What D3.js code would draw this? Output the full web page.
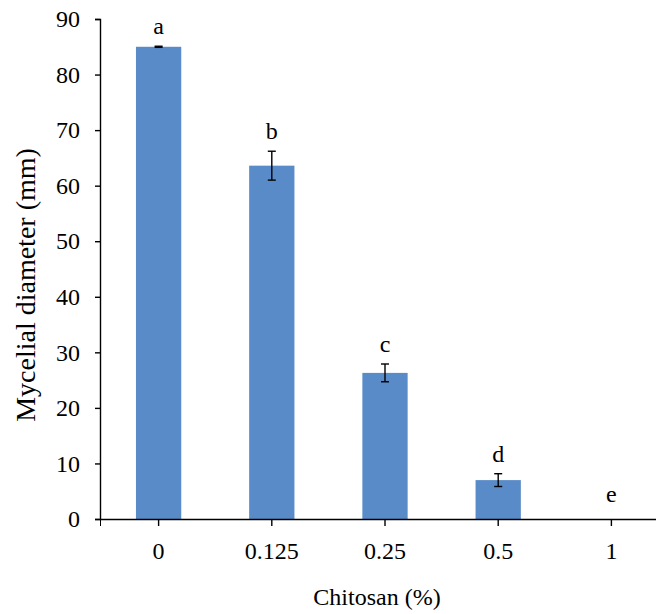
<!DOCTYPE html>
<html>
<head>
<meta charset="utf-8">
<script src="https://cdn.jsdelivr.net/npm/d3@7"></script>
<style>
  body { margin: 0; background: #fff; }
  text { font-family: "Liberation Serif", "Times New Roman", serif; }
</style>
</head>
<body>
<svg id="chart" width="656" height="614"></svg>
<script>
// chitosan concentrations and mycelial growth
const concentrations = ['0', '0.125', '0.25', '0.5', '1'];
const diameters = [85.0, 63.6, 26.3, 7.0, 0];
const errors = [0.1, 2.6, 1.6, 1.15, 0];
const letters = ['a', 'b', 'c', 'd', 'e'];
const yTicks = [0, 10, 20, 30, 40, 50, 60, 70, 80, 90];

const svg = d3.select('#chart');

const x = d3.scaleBand()
  .domain(concentrations)
  .range([102, 668])
  .paddingInner(0.6)
  .paddingOuter(0.3);

const y = d3.scaleLinear()
  .domain([0, 90])
  .range([519, 19]);

const rows = concentrations.map((c, i) => ({
  c, v: diameters[i], err: errors[i], letter: letters[i]
}));

// bars
svg.append('g')
  .selectAll('rect')
  .data(rows)
  .enter()
  .append('rect')
  .attr('x', d => x(d.c))
  .attr('y', d => y(d.v))
  .attr('width', x.bandwidth())
  .attr('height', d => y(0) - y(d.v))
  .attr('fill', '#588BC8');

// error bars
const errG = svg.append('g')
  .attr('stroke', '#000')
  .attr('stroke-width', 1.4);

rows.filter(d => d.v > 0).forEach(d => {
  const cx = x(d.c) + x.bandwidth() / 2;
  errG.append('line')
    .attr('x1', cx).attr('x2', cx)
    .attr('y1', y(d.v + d.err)).attr('y2', y(d.v - d.err));
  [d.v + d.err, d.v - d.err].forEach(e => {
    errG.append('line')
      .attr('x1', cx - 4).attr('x2', cx + 4)
      .attr('y1', y(e)).attr('y2', y(e));
  });
});

// significance letters
svg.append('g')
  .selectAll('text')
  .data(rows)
  .enter()
  .append('text')
  .attr('x', d => x(d.c) + x.bandwidth() / 2)
  .attr('y', d => y(d.v + d.err) - (d.v > 0 ? 12 : 17))
  .attr('text-anchor', 'middle')
  .attr('font-size', 24)
  .text(d => d.letter);

// x axis
const xAxis = svg.append('g')
  .attr('transform', `translate(0,${y(0)})`)
  .call(d3.axisBottom(x).tickSizeOuter(0).tickSize(7).tickPadding(16));
xAxis.select('.domain')
  .attr('d', 'M100.5,0.5H656');
xAxis.append('line')
  .attr('x1', 100.5).attr('x2', 100.5)
  .attr('y1', 0).attr('y2', 7)
  .attr('stroke', '#000');

// y axis
const yAxis = svg.append('g')
  .attr('transform', 'translate(100,0)')
  .call(d3.axisLeft(y).tickValues(yTicks).tickSizeOuter(0).tickSize(5).tickPadding(15));

svg.selectAll('.tick text')
  .attr('font-family', '"Liberation Serif", "Times New Roman", serif')
  .attr('font-size', 24)
  .attr('fill', '#000');
svg.selectAll('.domain, .tick line')
  .attr('stroke', '#000')
  .attr('stroke-width', 1.4);

// axis titles
svg.append('text')
  .attr('x', 377)
  .attr('y', 605)
  .attr('text-anchor', 'middle')
  .attr('font-size', 24)
  .text('Chitosan (%)');

svg.append('text')
  .attr('transform', 'translate(35,285) rotate(-90)')
  .attr('text-anchor', 'middle')
  .attr('font-size', 28)
  .text('Mycelial diameter (mm)');
</script>
</body>
</html>
